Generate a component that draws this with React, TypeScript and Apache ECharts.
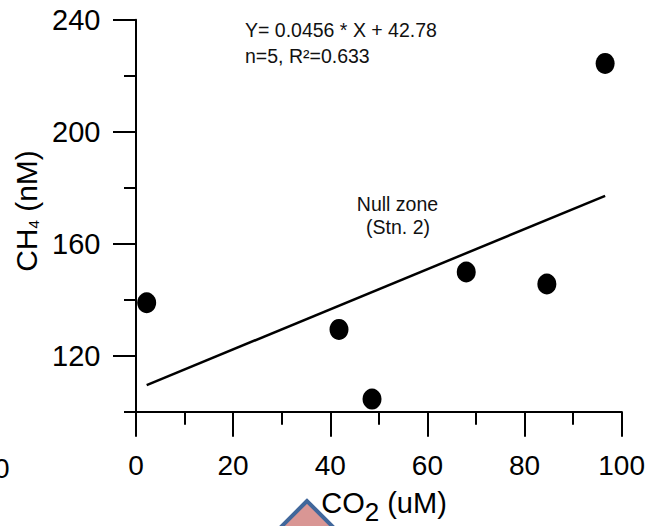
import { useEffect, useRef } from 'react';
import * as echarts from 'echarts';

// Station measurements: dissolved CO2 (uM) against CH4 (nM)
const co2 = [2.2, 41.8, 48.6, 68.0, 84.6, 96.6];
const ch4 = [138.9, 129.4, 104.5, 149.9, 145.6, 224.4];

// End points of the fitted regression line
const fitCo2 = [2.2, 96.6];
const fitCh4 = [109.5, 177.1];

// Axis ticks
const xMajorTicks = [0, 20, 40, 60, 80, 100];
const yMajorTicks = [120, 160, 200, 240];
const yMinorTicks = [100, 140, 180, 220];

const equationText = 'Y= 0.0456 * X + 42.78';
const statsText = 'n=5, R²=0.633';
const zoneText = ['Null zone', '(Stn. 2)'];

const FONT = '"Liberation Sans", Arial, Helvetica, sans-serif';
const INK = '#000';

export default function App() {
  const ref = useRef<HTMLDivElement>(null);

  useEffect(() => {
    if (!ref.current) return;
    const chart = echarts.init(ref.current, null, { renderer: 'svg' });

    const lineStyle = { color: INK, width: 2 };

    chart.setOption({
      animation: false,
      backgroundColor: '#fff',
      grid: { left: 136, right: 23.7, top: 19.7, bottom: 114.3, containLabel: false },
      xAxis: [
        {
          type: 'value',
          position: 'bottom',
          min: 0,
          max: 100,
          interval: 20,
          axisLine: { show: true, lineStyle },
          axisTick: { show: true, length: 25, lineStyle },
          axisLabel: {
            show: true,
            margin: 40,
            color: INK,
            fontSize: 28,
            fontFamily: FONT,
            customValues: xMajorTicks,
          },
          splitLine: { show: false },
        },
        {
          type: 'value',
          position: 'bottom',
          min: 0,
          max: 100,
          interval: 10,
          axisLine: { show: false },
          axisTick: { show: true, length: 13, lineStyle },
          axisLabel: { show: false },
          splitLine: { show: false },
        },
      ],
      yAxis: [
        {
          type: 'value',
          position: 'left',
          min: 100,
          max: 240,
          interval: 20,
          axisLine: { show: true, lineStyle },
          axisTick: { show: true, length: 12, lineStyle, customValues: yMinorTicks },
          axisLabel: { show: false },
          splitLine: { show: false },
        },
        {
          type: 'value',
          position: 'left',
          min: 100,
          max: 240,
          interval: 20,
          axisLine: { show: false },
          axisTick: { show: true, length: 23, lineStyle, customValues: yMajorTicks },
          axisLabel: {
            show: true,
            margin: 35.5,
            color: INK,
            fontSize: 29,
            fontFamily: FONT,
            customValues: yMajorTicks,
            formatter: (v: number) => (yMajorTicks.includes(v) ? String(v) : ''),
          },
          splitLine: { show: false },
        },
      ],
      series: [
        {
          type: 'line',
          xAxisIndex: 0,
          yAxisIndex: 0,
          data: fitCo2.map((x, i) => [x, fitCh4[i]]),
          symbol: 'none',
          lineStyle: { color: INK, width: 2.5 },
          silent: true,
          z: 3,
        },
        {
          type: 'scatter',
          xAxisIndex: 0,
          yAxisIndex: 0,
          data: co2.map((x, i) => [x, ch4[i]]),
          symbol: 'circle',
          symbolSize: [19, 21],
          itemStyle: { color: INK, opacity: 1 },
          z: 4,
        },
      ],
      graphic: [
        // tip of the block arrow below the axis
        {
          type: 'polygon',
          z: 1,
          shape: { points: [[307, 501], [272, 536], [342, 536]] },
          style: { fill: '#d99694', stroke: '#41679b', lineWidth: 4, lineJoin: 'miter' },
        },
        // x axis title
        {
          type: 'text',
          z: 5,
          x: 384,
          y: 503,
          style: {
            text: '{a|CO}{s|2}{a| (uM)}',
            align: 'center',
            verticalAlign: 'middle',
            fill: INK,
            rich: {
              a: { fontSize: 29, fontFamily: FONT, fill: INK },
              s: { fontSize: 26, fontFamily: FONT, fill: INK, padding: [18, 0, 0, 0] },
            },
          },
        },
        // y axis title
        {
          type: 'text',
          z: 5,
          x: 26,
          y: 211,
          rotation: Math.PI / 2,
          style: {
            text: '{a|CH}{s|4}{a| (nM)}',
            align: 'center',
            verticalAlign: 'middle',
            fill: INK,
            rich: {
              a: { fontSize: 30, fontFamily: FONT, fill: INK },
              s: { fontSize: 15, fontFamily: FONT, fill: INK, padding: [14, 0, 0, 0] },
            },
          },
        },
        {
          type: 'text',
          z: 5,
          x: 245,
          y: 30,
          style: {
            text: equationText,
            align: 'left',
            verticalAlign: 'middle',
            fontSize: 19.5,
            fontFamily: FONT,
            fill: '#111',
          },
        },
        {
          type: 'text',
          z: 5,
          x: 245,
          y: 55.5,
          style: {
            text: statsText,
            align: 'left',
            verticalAlign: 'middle',
            fontSize: 19.5,
            fontFamily: FONT,
            fill: '#111',
          },
        },
        {
          type: 'text',
          z: 5,
          x: 397.5,
          y: 204,
          style: {
            text: zoneText[0],
            align: 'center',
            verticalAlign: 'middle',
            fontSize: 19.5,
            fontFamily: FONT,
            fill: '#111',
          },
        },
        {
          type: 'text',
          z: 5,
          x: 398,
          y: 227,
          style: {
            text: zoneText[1],
            align: 'center',
            verticalAlign: 'middle',
            fontSize: 19.5,
            fontFamily: FONT,
            fill: '#111',
          },
        },
        // last tick label of the neighbouring panel on the left
        {
          type: 'text',
          z: 5,
          x: 9.5,
          y: 468,
          style: {
            text: String(xMajorTicks[xMajorTicks.length - 1]),
            align: 'right',
            verticalAlign: 'middle',
            fontSize: 28,
            fontFamily: FONT,
            fill: INK,
          },
        },
      ],
    });

    return () => chart.dispose();
  }, []);

  return (
    <div
      ref={ref}
      style={{ position: 'fixed', left: 0, top: 0, width: 648, height: 526, background: '#fff' }}
    />
  );
}
